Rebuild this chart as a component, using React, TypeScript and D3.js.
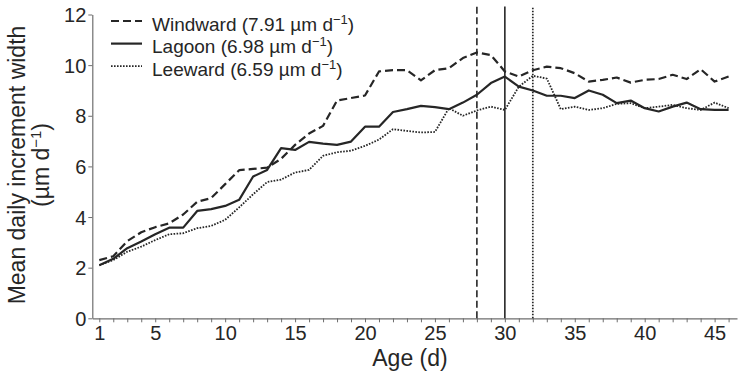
import { useEffect, useRef } from 'react'
import * as d3 from 'd3'

// Age in days
const ages = [
  1, 2, 3, 4, 5, 6, 7, 8, 9, 10, 11, 12, 13, 14, 15, 16, 17, 18, 19, 20, 21, 22, 23,
  24, 25, 26, 27, 28, 29, 30, 31, 32, 33, 34, 35, 36, 37, 38, 39, 40, 41, 42, 43, 44, 45, 46,
]

// Mean daily increment width (µm d-1)
const windward = [
  2.3, 2.45, 3.05, 3.4, 3.6, 3.75, 4.1, 4.6, 4.75, 5.3, 5.85, 5.9, 5.95, 6.3, 6.85, 7.3,
  7.6, 8.6, 8.7, 8.8, 9.75, 9.8, 9.8, 9.4, 9.8, 9.88, 10.28, 10.5, 10.4, 9.75, 9.55, 9.8,
  9.94, 9.88, 9.68, 9.35, 9.42, 9.51, 9.31, 9.42, 9.45, 9.62, 9.45, 9.84, 9.35, 9.55,
]
const lagoon = [
  2.1, 2.35, 2.77, 3.03, 3.32, 3.58, 3.58, 4.24, 4.31, 4.44, 4.68, 5.6, 5.86, 6.72, 6.65,
  6.97, 6.9, 6.85, 6.98, 7.57, 7.57, 8.15, 8.26, 8.39, 8.34, 8.26, 8.52, 8.83, 9.29, 9.55,
  9.15, 9.0, 8.79, 8.79, 8.7, 9.0, 8.83, 8.5, 8.6, 8.3, 8.17, 8.36, 8.52, 8.26, 8.23, 8.23,
]
const leeward = [
  2.1, 2.3, 2.63, 2.83, 3.09, 3.32, 3.36, 3.56, 3.65, 3.89, 4.38, 4.9, 5.38, 5.48, 5.76,
  5.86, 6.42, 6.56, 6.62, 6.81, 7.06, 7.47, 7.4, 7.34, 7.36, 8.3, 8.0, 8.21, 8.36, 8.23,
  9.15, 9.58, 9.47, 8.26, 8.36, 8.23, 8.3, 8.47, 8.5, 8.3, 8.36, 8.43, 8.3, 8.23, 8.52, 8.3,
]

const seriesNames = ['Windward', 'Lagoon', 'Leeward']
const seriesRates = ['7.91', '6.98', '6.59']
const seriesDash = ['8 4', null, '1.6 1.4']
const seriesWidth = [2.2, 2.2, 1.8]

// vertical markers (age of settlement per site)
const markerAges = [28, 30, 32]
const markerDash = ['7 3.5', null, '1.6 1.4']

const xTickLabels = [1, 5, 10, 15, 20, 25, 30, 35, 40, 45]
const yTicks = [0, 2, 4, 6, 8, 10, 12]

const font = "'Liberation Sans', Arial, Helvetica, sans-serif"
const ink = '#262626'
const axisGrey = '#6e6e6e'

export default function App() {
  const svgRef = useRef<SVGSVGElement>(null)

  useEffect(() => {
    if (!svgRef.current) return
    const svg = d3.select(svgRef.current)
    svg.selectAll('*').remove()

    const x = d3.scaleLinear().domain([0.5, 46.6]).range([92.3, 737])
    const y = d3.scaleLinear().domain([0, 12]).range([318.3, 14.5])

    // X axis: tick every day, label every 5
    const xAxis = svg.append('g')
      .attr('transform', `translate(0,${y(0)})`)
      .call(d3.axisBottom(x)
        .tickValues(ages)
        .tickSizeInner(4)
        .tickSizeOuter(0)
        .tickFormat(d => (xTickLabels.includes(d as number) ? String(d) : '')))
    xAxis.select('.domain').attr('stroke', axisGrey).attr('stroke-width', 1.2)
    xAxis.selectAll('.tick line').attr('stroke', axisGrey).attr('stroke-width', 1)
    xAxis.selectAll('.tick text')
      .attr('font-family', font)
      .attr('font-size', 20)
      .attr('fill', ink)
      .attr('dy', '0.78em')
      .attr('y', 6)

    // Y axis
    const yAxis = svg.append('g')
      .attr('transform', `translate(${x(0.5)},0)`)
      .call(d3.axisLeft(y).tickValues(yTicks).tickSizeInner(4).tickSizeOuter(0))
    yAxis.select('.domain').attr('stroke', axisGrey).attr('stroke-width', 1.2)
    yAxis.selectAll('.tick line').attr('stroke', axisGrey).attr('stroke-width', 1)
    yAxis.selectAll('.tick text')
      .attr('font-family', font)
      .attr('font-size', 20)
      .attr('fill', ink)
      .attr('x', -6)
      .attr('dy', '0.36em')

    // Vertical markers
    markerAges.forEach((a, i) => {
      svg.append('line')
        .attr('x1', x(a)).attr('x2', x(a))
        .attr('y1', y(0)).attr('y2', y(12.32))
        .attr('stroke', ink)
        .attr('stroke-width', i === 2 ? 1.7 : 1.6)
        .attr('stroke-dasharray', markerDash[i])
    })

    // Series lines
    const line = d3.line<number>()
      .x((d, i) => x(ages[i]))
      .y(d => y(d))

    ;[windward, lagoon, leeward].forEach((data, i) => {
      svg.append('path')
        .datum(data)
        .attr('fill', 'none')
        .attr('stroke', ink)
        .attr('stroke-width', seriesWidth[i])
        .attr('stroke-linejoin', 'round')
        .attr('stroke-dasharray', seriesDash[i])
        .attr('d', line)
    })

    // Legend
    const legend = svg.append('g')
    seriesNames.forEach((name, i) => {
      const cy = 21 + i * 22.6
      legend.append('line')
        .attr('x1', 111).attr('x2', 142)
        .attr('y1', cy).attr('y2', cy)
        .attr('stroke', ink)
        .attr('stroke-width', seriesWidth[i])
        .attr('stroke-dasharray', seriesDash[i])
      const t = legend.append('text')
        .attr('x', 152)
        .attr('y', cy + 9.5)
        .attr('font-family', font)
        .attr('font-size', 19)
        .attr('fill', ink)
      t.append('tspan').text(`${name} (${seriesRates[i]} µm d`)
      t.append('tspan').attr('dy', -7).attr('font-size', 13).text('−1')
      t.append('tspan').attr('dy', 7).text(')')
    })

    // Axis titles
    svg.append('text')
      .attr('x', 410)
      .attr('y', 366)
      .attr('text-anchor', 'middle')
      .attr('font-family', font)
      .attr('font-size', 23)
      .attr('fill', ink)
      .text('Age (d)')

    const yTitle = svg.append('text')
      .attr('transform', 'translate(0,165) rotate(-90)')
      .attr('text-anchor', 'middle')
      .attr('font-family', font)
      .attr('font-size', 23)
      .attr('fill', ink)
    yTitle.append('tspan').attr('x', 0).attr('y', 25).text('Mean daily increment width')
    const l2 = yTitle.append('tspan').attr('x', 0).attr('y', 49)
    l2.append('tspan').text('(µm d')
    l2.append('tspan').attr('dy', -8).attr('font-size', 15).text('−1')
    l2.append('tspan').attr('dy', 8).text(')')
  }, [])

  return (
    <svg
      ref={svgRef}
      width={739}
      height={374}
      style={{ position: 'absolute', left: 0, top: 0, background: '#fff' }}
    />
  )
}
